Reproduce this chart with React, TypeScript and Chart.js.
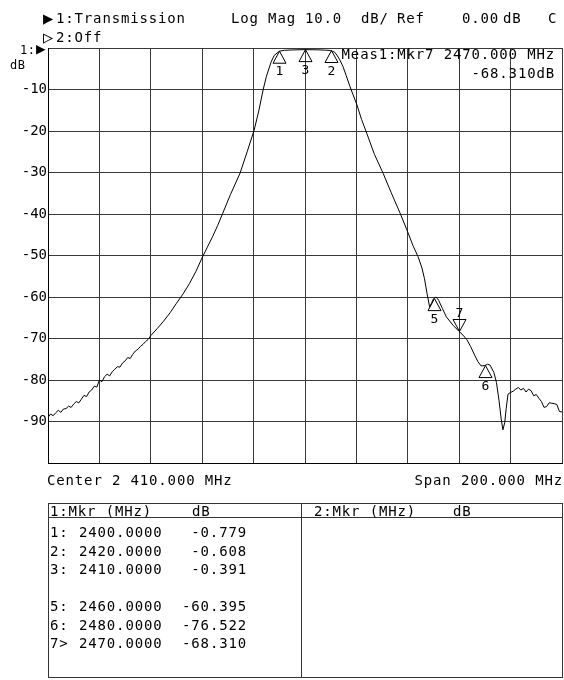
import React, { useEffect, useRef } from 'react';
import { Chart, registerables } from 'chart.js';

Chart.register(...registerables);

// ---- data ----
const freqMHz = [
  2310, 2311, 2312, 2313, 2314, 2315, 2316, 2317, 2318, 2319,
  2320, 2321, 2322, 2323, 2324, 2325, 2326, 2327, 2328, 2329,
  2330, 2331, 2332, 2333, 2334, 2335, 2336, 2337, 2338, 2339,
  2340, 2341, 2342, 2343, 2344, 2345, 2346, 2347, 2348, 2349,
  2350, 2352.5, 2355, 2357.5, 2360, 2362.5, 2365, 2367.5, 2370, 2372,
  2374, 2376, 2378, 2381, 2384.7, 2387.5, 2390.2, 2392, 2393.7, 2395,
  2396.8, 2398, 2400, 2402, 2405, 2410, 2415, 2418, 2420, 2421.5,
  2422.4, 2423.5, 2424.8, 2426, 2427.5, 2430.2, 2432, 2434, 2437, 2440.4,
  2443.5, 2447, 2449.7, 2452, 2454, 2455.5, 2456.5, 2457.5, 2458.5, 2459.3,
  2460, 2461, 2462, 2463.5, 2465, 2467.6, 2470, 2471.5, 2473, 2474.5,
  2476, 2477.3, 2478.5, 2480, 2481, 2482, 2483.5, 2484.5, 2485.5, 2486.3,
  2487, 2487.7, 2488.3, 2489, 2490, 2491, 2492, 2493, 2494, 2495,
  2496, 2497, 2498, 2499, 2500, 2501, 2502, 2503, 2504, 2505,
  2506, 2507, 2508, 2509, 2510,
];

const traceDb = [
  -89.0, -88.2, -88.6, -87.9, -87.3, -87.8, -87.0, -86.9, -86.3, -86.6,
  -85.8, -85.2, -85.5, -84.6, -83.7, -84.0, -82.9, -82.4, -81.5, -81.7,
  -80.0, -80.4, -79.2, -78.6, -79.0, -78.0, -77.4, -76.8, -76.9, -75.9,
  -75.4, -74.6, -74.8, -73.8, -73.0, -72.6, -71.9, -71.4, -70.7, -70.2,
  -69.3, -67.6, -65.8, -63.8, -61.5, -59.3, -56.8, -53.9, -50.5, -48.0,
  -45.5, -42.8, -39.8, -35.3, -30.2, -25.0, -19.8, -15.2, -10.1, -6.8,
  -3.4, -1.8, -0.779, -0.55, -0.47, -0.391, -0.44, -0.52, -0.608, -1.0,
  -1.7, -2.8, -4.5, -6.6, -9.3, -13.7, -17.2, -20.5, -25.6, -30.2,
  -34.8, -39.8, -43.9, -47.6, -50.3, -53.0, -55.6, -59.2, -62.4, -61.4,
  -60.395, -60.0, -60.8, -62.8, -64.8, -66.8, -68.31, -69.2, -70.3, -72.0,
  -74.0, -75.6, -76.6, -76.522, -76.2, -76.4, -78.2, -80.6, -85.0, -89.2,
  -92.0, -90.3, -86.8, -83.4, -83.0, -82.7, -82.2, -81.8, -82.4, -82.0,
  -82.9, -82.2, -82.6, -83.8, -83.5, -84.4, -85.2, -86.6, -86.4, -85.5,
  -85.6, -85.7, -85.9, -87.6, -87.7,
];

const markerIds = ['1', '2', '3', '5', '6', '7'];
const markerFreqs = [2400, 2420, 2410, 2460, 2480, 2470];
const markerValues = [-0.779, -0.608, -0.391, -60.395, -76.522, -68.31];
const activeMarker = '7';

const xMin = 2310;
const xMax = 2510;
const xStep = 20;
const yMin = -100;
const yMax = 0;
const yStep = 10;

const FONT = '"DejaVu Sans Mono", "Liberation Mono", monospace';

type TProps = { x: number; y: number; text: string; size?: number; right?: boolean; ls?: number };

function T({ x, y, text, size = 14, right = false, ls = 0.85 }: TProps) {
  const top = y - 0.846 * size;
  const style: React.CSSProperties = {
    position: 'absolute',
    top,
    fontFamily: FONT,
    fontSize: size,
    lineHeight: `${size}px`,
    whiteSpace: 'pre',
    letterSpacing: ls,
    color: '#000',
  };
  if (right) style.right = 564 - x;
  else style.left = x;
  return <div style={style}>{text}</div>;
}

const markerPlugin = {
  id: 'markers',
  afterDatasetsDraw(chart: any) {
    const { ctx } = chart;
    const xs = chart.scales.x;
    const ys = chart.scales.y;
    ctx.save();
    ctx.strokeStyle = '#000';
    ctx.fillStyle = '#000';
    ctx.lineWidth = 1;
    ctx.font = `13px ${FONT}`;
    ctx.textAlign = 'center';
    ctx.textBaseline = 'alphabetic';
    markerIds.forEach((id, i) => {
      const px = Math.round(xs.getPixelForValue(markerFreqs[i])) + 0.5;
      const py = ys.getPixelForValue(markerValues[i]);
      const up = id !== activeMarker;
      const w = 6.5;
      const h = 12;
      ctx.beginPath();
      if (up) {
        ctx.moveTo(px, py);
        ctx.lineTo(px - w, py + h);
        ctx.lineTo(px + w, py + h);
      } else {
        ctx.moveTo(px, py);
        ctx.lineTo(px - w, py - h);
        ctx.lineTo(px + w, py - h);
      }
      ctx.closePath();
      ctx.stroke();
      if (up) ctx.fillText(id, px, py + h + 12);
      else ctx.fillText(id, px, py - h - 2);
    });
    ctx.restore();
  },
};

export default function App() {
  const ref = useRef<HTMLCanvasElement | null>(null);

  useEffect(() => {
    if (!ref.current) return;
    const chart = new Chart(ref.current, {
      type: 'line',
      data: {
        datasets: [
          {
            data: freqMHz.map((f, i) => ({ x: f, y: traceDb[i] })),
            borderColor: '#000',
            borderWidth: 1,
            pointRadius: 0,
            tension: 0,
            fill: false,
          },
        ],
      },
      options: {
        animation: false,
        responsive: false,
        events: [],
        layout: { padding: { top: 48, bottom: 17, left: 0, right: 2 } },
        plugins: { legend: { display: false }, tooltip: { enabled: false } },
        scales: {
          x: {
            type: 'linear',
            min: xMin,
            max: xMax,
            ticks: { display: false, stepSize: xStep },
            grid: { color: '#3a3a3a', lineWidth: 1, drawTicks: false },
            border: { color: '#000' },
            afterFit: (s: any) => {
              s.height = 0;
            },
          },
          y: {
            type: 'linear',
            min: yMin,
            max: yMax,
            ticks: {
              stepSize: yStep,
              color: '#000',
              font: { family: FONT, size: 14 },
              padding: 1,
              callback: (v: any) => (v === yMax || v === yMin ? '' : String(v)),
            },
            grid: { color: '#3a3a3a', lineWidth: 1, drawTicks: false },
            border: { color: '#000' },
            afterFit: (s: any) => {
              s.width = 48;
            },
          },
        },
      } as any,
      plugins: [markerPlugin],
    });
    return () => chart.destroy();
  }, []);

  const am = markerIds.indexOf(activeMarker);
  const rowBase = 537;
  const rowStep = 18.5;

  return (
    <div style={{ position: 'absolute', left: 0, top: 0, width: 564, height: 680, background: '#fff', overflow: 'hidden' }}>
      <canvas ref={ref} width={564} height={480} style={{ position: 'absolute', left: 0, top: 0, width: 564, height: 480 }} />

      {/* header */}
      <T x={43} y={24} text="▶" size={17} ls={0} />
      <T x={56} y={23} text="1:Transmission" />
      <T x={231} y={23} text="Log Mag" />
      <T x={305} y={23} text="10.0" />
      <T x={361} y={23} text="dB/" />
      <T x={397} y={23} text="Ref" />
      <T x={462} y={23} text="0.00" />
      <T x={503} y={23} text="dB" />
      <T x={548} y={23} text="C" />
      <T x={43} y={43} text="▷" size={17} ls={0} />
      <T x={56} y={42} text="2:Off" />

      <T x={20} y={54} text="1:" size={12} ls={0.5} />
      <T x={36} y={55} text="▶" size={16} ls={0} />
      <T x={10} y={69} text="dB" size={12} ls={0.5} />

      {/* active marker readout */}
      <T x={555} y={59} right text={`Meas1:Mkr${activeMarker} ${markerFreqs[am].toFixed(3)} MHz`} />
      <T x={555} y={78} right text={`${markerValues[am].toFixed(3)}dB`} />

      {/* below plot */}
      <T x={47} y={485} text={`Center 2 ${((xMin + xMax) / 2 - 2000).toFixed(3)} MHz`} />
      <T x={563} y={485} right text={`Span ${(xMax - xMin).toFixed(3)} MHz`} />

      {/* marker table */}
      <div style={{ position: 'absolute', left: 48, top: 503, width: 515, height: 175, border: '1px solid #333', boxSizing: 'border-box' }} />
      <div style={{ position: 'absolute', left: 301, top: 503, width: 1, height: 175, background: '#333' }} />
      <div style={{ position: 'absolute', left: 48, top: 517, width: 515, height: 1, background: '#333' }} />
      <T x={50} y={516} text="1:Mkr (MHz)" />
      <T x={192} y={516} text="dB" />
      <T x={314} y={516} text="2:Mkr (MHz)" />
      <T x={453} y={516} text="dB" />
      {markerIds.map((id, i) => {
        const y = rowBase + (Number(id) - 1) * rowStep;
        return (
          <React.Fragment key={id}>
            <T x={50} y={y} text={`${id}${id === activeMarker ? '>' : ':'}`} />
            <T x={79} y={y} text={markerFreqs[i].toFixed(4)} />
            <T x={247} y={y} right text={markerValues[i].toFixed(3)} />
          </React.Fragment>
        );
      })}
    </div>
  );
}
